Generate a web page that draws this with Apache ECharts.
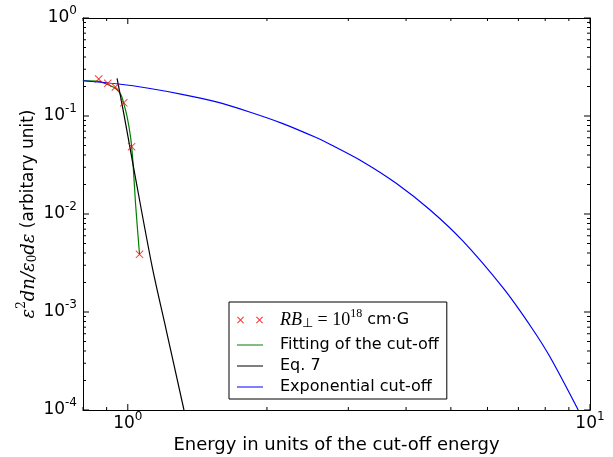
<!DOCTYPE html>
<html>
<head>
<meta charset="utf-8">
<script src="https://cdn.jsdelivr.net/npm/echarts@6/dist/echarts.min.js"></script>
<style>html,body{margin:0;padding:0;background:#fff}#c{width:613px;height:457px}</style>
</head>
<body>
<div id="c"></div>
<script>
// Measured points (x = energy / cut-off energy, y = spectrum)
const dataX = [0.865, 0.905, 0.940, 0.980, 1.019, 1.060];
const dataY = [0.2385, 0.2157, 0.1977, 0.1364, 0.0486, 0.00388];

const fitX = [0.799, 0.865, 0.905, 0.940, 0.967, 0.980, 0.9965, 1.0136, 1.0253, 1.0392, 1.060];
const fitY = [0.230, 0.226, 0.2096, 0.1917, 0.1638, 0.1348, 0.0984, 0.0615, 0.0356, 0.01286, 0.00388];

const eqX = [0.948, 0.980, 1.027, 1.129, 1.211, 1.323];
const eqY = [0.2425, 0.1066, 0.0316, 0.0029, 0.000655, 0.0001];

const expX = [0.8, 0.954, 1.109, 1.310, 1.547, 1.827, 2.158, 2.549, 2.73, 3.223, 3.808, 4.497, 5.312, 6.486, 7.47, 8.19, 9.43];
const expY = [0.229, 0.212, 0.192, 0.1665, 0.140, 0.1106, 0.0842, 0.0606, 0.0518, 0.0342, 0.0206, 0.01111, 0.00528, 0.001758, 0.000695, 0.000349, 0.0001];

const seriesNames = ['data', 'Fitting of the cut-off', 'Eq. 7', 'Exponential cut-off'];
const xMajorTicks = [1, 10];
const xMinorTicks = [0.8, 0.9, 2, 3, 4, 5, 6, 7, 8, 9];
const yMajorTicks = [0.0001, 0.001, 0.01, 0.1, 1];
const yMinorTicks = [
  0.0002, 0.0003, 0.0004, 0.0005, 0.0006, 0.0007, 0.0008, 0.0009,
  0.002, 0.003, 0.004, 0.005, 0.006, 0.007, 0.008, 0.009,
  0.02, 0.03, 0.04, 0.05, 0.06, 0.07, 0.08, 0.09,
  0.2, 0.3, 0.4, 0.5, 0.6, 0.7, 0.8, 0.9
];
const xName = 'Energy in units of the cut-off energy';
const yNameUnit = ' (arbitary unit)';

const zip = (xs, ys) => xs.map((x, i) => [x, ys[i]]);

const X_MIN = 0.8, X_MAX = 10, Y_MIN = 0.0001, Y_MAX = 1;
const SANS = 'DejaVu Sans';
const SERIF = 'DejaVu Serif';
const MATH = 'Liberation Serif';
const xPath = 'path://M0,0.8L0.8,0L5,4.2L9.2,0L10,0.8L5.8,5L10,9.2L9.2,10L5,5.8L0.8,10L0,9.2L4.2,5Z';
const legendXPath = 'path://M0,0.7L0.7,0L3.5,2.8L6.3,0L7,0.7L4.2,3.5L7,6.3L6.3,7L3.5,4.2L0.7,7L0,6.3L2.8,3.5Z' +
  'M19,0.7L19.7,0L22.5,2.8L25.3,0L26,0.7L23.2,3.5L26,6.3L25.3,7L22.5,4.2L19.7,7L19,6.3L21.8,3.5Z';
const legendLinePath = 'path://M0,0L0.01,0L0,0.01Z M26,7L25.99,7L26,6.99Z M0,2.9L26,2.9L26,4.1L0,4.1Z';

const tickRich = {
  b: { fontFamily: SANS, fontSize: 17, color: '#000', lineHeight: 20 },
  s: { fontFamily: SANS, fontSize: 12, color: '#000', lineHeight: 20, padding: [0, 0, 15, 0] }
};
const expFmt = v => '{b|10}{s|' + Math.round(Math.log10(v)) + '}';
const axLine = { show: true, lineStyle: { color: '#000', width: 1 } };

const xTickData = xMajorTicks.map(v => [v, 0.01, 6]).concat(xMinorTicks.map(v => [v, 0.01, 3]));
const yTickData = yMajorTicks.map(v => [2, v, 6]).concat(yMinorTicks.map(v => [2, v, 3]));

function tickLine(x1, y1, x2, y2) {
  return { type: 'line', shape: { x1, y1, x2, y2 }, style: { stroke: '#000', lineWidth: 1 } };
}

const chart = echarts.init(document.getElementById('c'), null, { renderer: 'canvas' });
chart.setOption({
  animation: false,
  backgroundColor: '#fff',
  grid: { left: 83, right: 23, top: 18, bottom: 47, containLabel: false, outerBoundsMode: 'none' },
  xAxis: [
    { type: 'log', logBase: 10, min: X_MIN, max: X_MAX, position: 'bottom',
      axisLine: axLine, axisTick: { show: false }, minorTick: { show: false }, splitLine: { show: false },
      axisLabel: { show: true, customValues: xMajorTicks, formatter: expFmt, rich: tickRich, margin: 4 },
      name: xName, nameLocation: 'middle', nameGap: 26, nameMoveOverlap: false,
      nameTextStyle: { fontFamily: SANS, fontSize: 18, color: '#000' } },
    { type: 'log', logBase: 10, min: X_MIN, max: X_MAX, position: 'top',
      axisLine: axLine, axisTick: { show: false }, axisLabel: { show: false }, splitLine: { show: false } }
  ],
  yAxis: [
    { type: 'log', logBase: 10, min: Y_MIN, max: Y_MAX, position: 'left',
      axisLine: axLine, axisTick: { show: false }, minorTick: { show: false }, splitLine: { show: false },
      axisLabel: { show: true, customValues: yMajorTicks, formatter: expFmt, rich: tickRich, margin: 6 },
      name: '{mi|ε}{sp|2}{mi|dn/ε}{sb|0}{mi|dε}{t|' + yNameUnit + '}',
      nameLocation: 'middle', nameGap: 43, nameRotate: 90, nameMoveOverlap: false,
      nameTextStyle: {
        color: '#000',
        rich: {
          mi: { fontFamily: SERIF, fontStyle: 'italic', fontSize: 18, lineHeight: 22 },
          sp: { fontFamily: SERIF, fontSize: 12, lineHeight: 22, padding: [0, 0, 14, 0] },
          sb: { fontFamily: SERIF, fontSize: 12, lineHeight: 22, padding: [8, 0, 0, 0] },
          t: { fontFamily: SANS, fontSize: 17, lineHeight: 22 }
        }
      } },
    { type: 'log', logBase: 10, min: Y_MIN, max: Y_MAX, position: 'right',
      axisLine: axLine, axisTick: { show: false }, axisLabel: { show: false }, splitLine: { show: false } }
  ],
  legend: {
    orient: 'vertical', left: 229, top: 302,
    padding: [6, 8, 4, 8], itemGap: 5, itemWidth: 26, itemHeight: 7,
    borderColor: '#000', borderWidth: 1, borderRadius: 0, backgroundColor: '#fff',
    data: [
      { name: seriesNames[0], icon: legendXPath },
      { name: seriesNames[1], icon: legendLinePath },
      { name: seriesNames[2], icon: legendLinePath },
      { name: seriesNames[3], icon: legendLinePath }
    ],
    formatter: function (name) {
      if (name === seriesNames[0]) return '{mi|RB}{sb|⊥}{mr| = 10}{sp|18}{t| cm·G}';
      return '{t|' + name + '}';
    },
    textStyle: {
      color: '#000', padding: [0, 0, 0, 12],
      rich: {
        t: { fontFamily: SANS, fontSize: 16, lineHeight: 18 },
        mi: { fontFamily: MATH, fontStyle: 'italic', fontSize: 18, lineHeight: 18 },
        mr: { fontFamily: MATH, fontSize: 18, lineHeight: 18 },
        sp: { fontFamily: MATH, fontSize: 12, lineHeight: 18, padding: [0, 0, 12, 0] },
        sb: { fontFamily: MATH, fontSize: 13, lineHeight: 18, padding: [8, 0, 0, 0] }
      }
    }
  },
  series: [
    { name: seriesNames[0], type: 'scatter', data: zip(dataX, dataY), symbol: xPath, symbolSize: 8,
      itemStyle: { color: '#ff0000' }, z: 3 },
    { name: seriesNames[1], type: 'line', data: zip(fitX, fitY), symbol: 'none', showSymbol: false,
      lineStyle: { color: '#008000', width: 1.2 }, itemStyle: { color: '#008000' }, smooth: 0.2, z: 2 },
    { name: seriesNames[2], type: 'line', data: zip(eqX, eqY), symbol: 'none', showSymbol: false,
      lineStyle: { color: '#000', width: 1.2 }, itemStyle: { color: '#000' }, smooth: 0.3, z: 2 },
    { name: seriesNames[3], type: 'line', data: zip(expX, expY), symbol: 'none', showSymbol: false,
      lineStyle: { color: '#0000ff', width: 1.2 }, itemStyle: { color: '#0000ff' }, smooth: 0.3, z: 2 },
    { name: 'xticks', type: 'custom', coordinateSystem: 'cartesian2d', xAxisIndex: 0, yAxisIndex: 0,
      silent: true, z: 6, clip: false, data: xTickData, encode: { x: 0, y: 1 },
      renderItem: function (params, api) {
        const v = api.value(0), len = api.value(2);
        const b = api.coord([v, Y_MIN]), t = api.coord([v, Y_MAX]);
        return { type: 'group', children: [
          tickLine(b[0], b[1], b[0], b[1] - len),
          tickLine(t[0], t[1], t[0], t[1] + len)
        ] };
      } },
    { name: 'yticks', type: 'custom', coordinateSystem: 'cartesian2d', xAxisIndex: 0, yAxisIndex: 0,
      silent: true, z: 6, clip: false, data: yTickData, encode: { x: 0, y: 1 },
      renderItem: function (params, api) {
        const v = api.value(1), len = api.value(2);
        const l = api.coord([X_MIN, v]), r = api.coord([X_MAX, v]);
        return { type: 'group', children: [
          tickLine(l[0], l[1], l[0] + len, l[1]),
          tickLine(r[0], r[1], r[0] - len, r[1])
        ] };
      } }
  ]
});
</script>
</body>
</html>
